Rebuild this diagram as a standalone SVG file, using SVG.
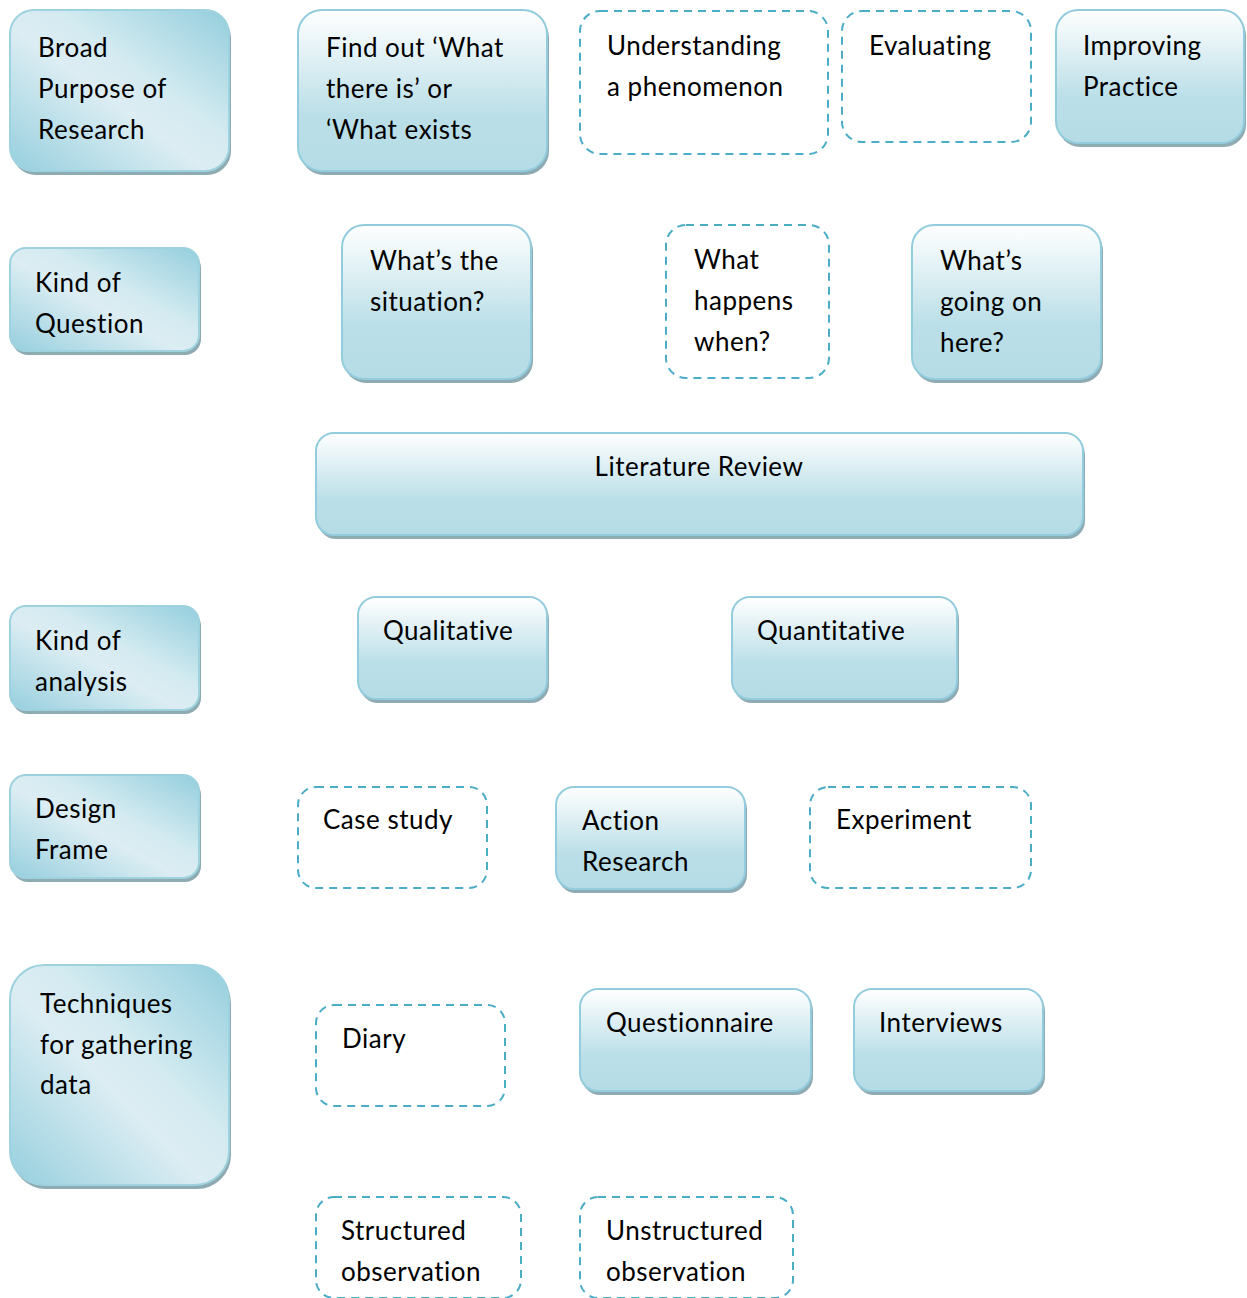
<svg xmlns="http://www.w3.org/2000/svg" width="1247" height="1298" viewBox="0 0 1247 1298">
<defs>
<linearGradient id="gv" x1="0" y1="0" x2="0" y2="1">
<stop offset="0" stop-color="#ffffff"/>
<stop offset="0.65" stop-color="#bbdfe8"/>
<stop offset="1" stop-color="#b5dce6"/>
</linearGradient>
<linearGradient id="gd" x1="0" y1="1" x2="1" y2="0">
<stop offset="0" stop-color="#96cfde"/>
<stop offset="0.45" stop-color="#dcedf3"/>
<stop offset="0.6" stop-color="#d4ebf1"/>
<stop offset="1" stop-color="#94cedd"/>
</linearGradient>
</defs>
<style>
.sh{fill:#8eaab2}
.hd{fill:url(#gd);stroke:#9fd2df;stroke-width:2}
.bx{fill:url(#gv);stroke:#93cddd;stroke-width:2}
.ds{fill:#ffffff;stroke:#4bacc6;stroke-width:2;stroke-dasharray:8 6}
text{font-family:Lato,"Open Sans","Liberation Sans",sans-serif;font-size:26px;letter-spacing:0.5px;fill:#000}
</style>
<rect width="1247" height="1298" fill="#ffffff"/>

<g id="broad">
<rect class="sh" x="12" y="14" width="219" height="161" rx="24"/>
<rect class="hd" x="10" y="10" width="219" height="161" rx="24"/>
<text x="38" y="57">Broad</text><text x="38" y="98">Purpose of</text><text x="38" y="139">Research</text>
</g>
<g id="findout">
<rect class="sh" x="300" y="14" width="249" height="161" rx="24"/>
<rect class="bx" x="298" y="10" width="249" height="161" rx="24"/>
<text x="326" y="57">Find out ‘What</text><text x="326" y="98">there is’ or</text><text x="326" y="139">‘What exists</text>
</g>
<g id="understanding">
<rect class="ds" x="580" y="11" width="248" height="143" rx="20"/>
<text x="607" y="55">Understanding</text><text x="607" y="96">a phenomenon</text>
</g>
<g id="evaluating">
<rect class="ds" x="842" y="11" width="189" height="131" rx="20"/>
<text x="869" y="55">Evaluating</text>
</g>
<g id="improving">
<rect class="sh" x="1058" y="14" width="188" height="133" rx="22"/>
<rect class="bx" x="1056" y="10" width="188" height="133" rx="22"/>
<text x="1083" y="55">Improving</text><text x="1083" y="96">Practice</text>
</g>

<g id="kindq">
<rect class="sh" x="12" y="252" width="189" height="103" rx="16"/>
<rect class="hd" x="10" y="248" width="189" height="103" rx="16"/>
<text x="35" y="292">Kind of</text><text x="35" y="333">Question</text>
</g>
<g id="situation">
<rect class="sh" x="344" y="229" width="189" height="154" rx="22"/>
<rect class="bx" x="342" y="225" width="189" height="154" rx="22"/>
<text x="370" y="270">What’s the</text><text x="370" y="311">situation?</text>
</g>
<g id="happens">
<rect class="ds" x="666" y="225" width="163" height="153" rx="20"/>
<text x="694" y="269">What</text><text x="694" y="310">happens</text><text x="694" y="351">when?</text>
</g>
<g id="goingon">
<rect class="sh" x="914" y="229" width="189" height="154" rx="22"/>
<rect class="bx" x="912" y="225" width="189" height="154" rx="22"/>
<text x="940" y="270">What’s</text><text x="940" y="311">going on</text><text x="940" y="352">here?</text>
</g>

<g id="litreview">
<rect class="sh" x="318" y="437" width="767" height="102" rx="18"/>
<rect class="bx" x="316" y="433" width="767" height="102" rx="18"/>
<text x="699" y="476" text-anchor="middle">Literature Review</text>
</g>

<g id="kinda">
<rect class="sh" x="12" y="610" width="189" height="104" rx="16"/>
<rect class="hd" x="10" y="606" width="189" height="104" rx="16"/>
<text x="35" y="650">Kind of</text><text x="35" y="691">analysis</text>
</g>
<g id="qual">
<rect class="sh" x="360" y="601" width="189" height="102" rx="18"/>
<rect class="bx" x="358" y="597" width="189" height="102" rx="18"/>
<text x="383" y="640">Qualitative</text>
</g>
<g id="quant">
<rect class="sh" x="734" y="601" width="225" height="102" rx="18"/>
<rect class="bx" x="732" y="597" width="225" height="102" rx="18"/>
<text x="757" y="640">Quantitative</text>
</g>

<g id="design">
<rect class="sh" x="12" y="779" width="189" height="103" rx="16"/>
<rect class="hd" x="10" y="775" width="189" height="103" rx="16"/>
<text x="35" y="818">Design</text><text x="35" y="859">Frame</text>
</g>
<g id="casestudy">
<rect class="ds" x="298" y="787" width="189" height="101" rx="18"/>
<text x="323" y="829">Case study</text>
</g>
<g id="action">
<rect class="sh" x="558" y="791" width="189" height="102" rx="18"/>
<rect class="bx" x="556" y="787" width="189" height="102" rx="18"/>
<text x="582" y="830">Action</text><text x="582" y="871">Research</text>
</g>
<g id="experiment">
<rect class="ds" x="810" y="787" width="221" height="101" rx="18"/>
<text x="836" y="829">Experiment</text>
</g>

<g id="techniques">
<rect class="sh" x="12" y="969" width="219" height="220" rx="34"/>
<rect class="hd" x="10" y="965" width="219" height="220" rx="34"/>
<text x="40" y="1013">Techniques</text><text x="40" y="1054">for gathering</text><text x="40" y="1094">data</text>
</g>
<g id="diary">
<rect class="ds" x="316" y="1005" width="189" height="101" rx="18"/>
<text x="342" y="1048">Diary</text>
</g>
<g id="questionnaire">
<rect class="sh" x="582" y="993" width="231" height="102" rx="18"/>
<rect class="bx" x="580" y="989" width="231" height="102" rx="18"/>
<text x="606" y="1032">Questionnaire</text>
</g>
<g id="interviews">
<rect class="sh" x="856" y="993" width="189" height="102" rx="18"/>
<rect class="bx" x="854" y="989" width="189" height="102" rx="18"/>
<text x="879" y="1032">Interviews</text>
</g>
<g id="structured">
<rect class="ds" x="316" y="1197" width="205" height="101" rx="18"/>
<text x="341" y="1240">Structured</text><text x="341" y="1281">observation</text>
</g>
<g id="unstructured">
<rect class="ds" x="580" y="1197" width="213" height="101" rx="18"/>
<text x="606" y="1240">Unstructured</text><text x="606" y="1281">observation</text>
</g>
<g id="connectors"></g>
</svg>
